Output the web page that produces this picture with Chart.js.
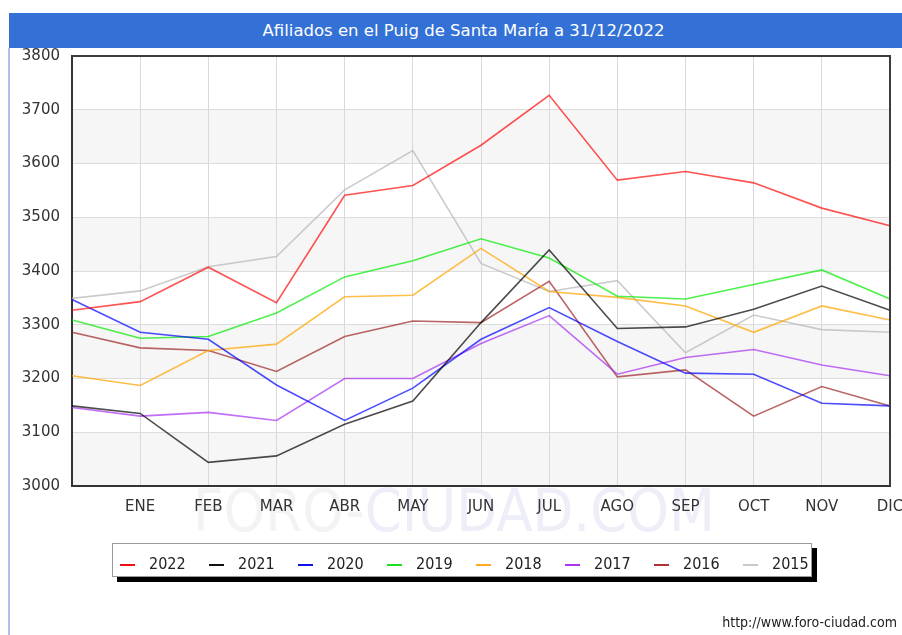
<!DOCTYPE html>
<html>
<head>
<meta charset="utf-8">
<script src="https://cdn.jsdelivr.net/npm/chart.js@4/dist/chart.umd.min.js"></script>
<style>
  html, body { margin:0; padding:0; background:#fff; }
  body { width:902px; height:635px; position:relative; overflow:hidden; font-family:"DejaVu Sans", sans-serif; }
  #titlebar { position:absolute; left:9px; top:13px; width:909px; height:35px; background:#3371d6; color:#fff;
    font-size:16.5px; line-height:35px; text-align:center; white-space:nowrap; }
  #leftline { position:absolute; left:8px; top:48px; width:2px; height:600px; background:#a9c3ea; }
  #wm { position:absolute; left:193px; top:481px; font-family:"DejaVu Sans Condensed","DejaVu Sans",sans-serif;
    font-size:59px; line-height:59px; white-space:nowrap; z-index:0; }
  #wm .a { color:#f3f3f3; }
  #wm .b { color:#eeeef9; }
  #c { position:absolute; left:0; top:0; width:902px; height:635px; z-index:1; }
  #legend { position:absolute; left:112px; top:543px; width:698px; height:32px; border:1px solid #9a9a9a; background:#fff;
    box-shadow:5px 5px 0 #000; z-index:2; font-family:"DejaVu Sans Condensed","DejaVu Sans",sans-serif; font-size:16px; color:#222; }
  #legend .item { position:absolute; top:11px; height:18px; line-height:18px; white-space:nowrap; }
  #legend .dash { position:absolute; left:0; top:9px; width:15px; height:2px; }
  #legend .txt { position:absolute; left:29px; top:0; }
  #footer { position:absolute; right:5px; top:614px; font-family:"DejaVu Sans Condensed","DejaVu Sans",sans-serif;
    font-size:14px; line-height:16px; color:#222; z-index:2; }
</style>
</head>
<body>
<div id="titlebar">Afiliados en el Puig de Santa María a 31/12/2022</div>
<div id="leftline"></div>
<div id="wm"><span class="a">FORO-</span><span class="b">CIUDAD.COM</span></div>
<canvas id="c" width="902" height="635"></canvas>
<div id="legend"></div>
<div id="footer">http://www.foro-ciudad.com</div>
<script>
// ---- data ----
const monthLabels = ['', 'ENE', 'FEB', 'MAR', 'ABR', 'MAY', 'JUN', 'JUL', 'AGO', 'SEP', 'OCT', 'NOV', 'DIC'];
const seriesNames = ['2022', '2021', '2020', '2019', '2018', '2017', '2016', '2015'];
const v2022 = [3327, 3343, 3407, 3341, 3541, 3559, 3634, 3727, 3569, 3585, 3564, 3517, 3484];
const v2021 = [3149, 3135, 3044, 3056, 3115, 3158, 3304, 3439, 3293, 3296, 3329, 3372, 3327];
const v2020 = [3347, 3286, 3273, 3188, 3122, 3182, 3273, 3332, 3269, 3210, 3208, 3154, 3149];
const v2019 = [3309, 3275, 3278, 3322, 3389, 3419, 3460, 3424, 3353, 3348, 3375, 3402, 3348];
const v2018 = [3205, 3187, 3252, 3264, 3352, 3355, 3442, 3362, 3351, 3335, 3286, 3335, 3309];
const v2017 = [3146, 3130, 3137, 3122, 3200, 3200, 3265, 3317, 3208, 3239, 3254, 3225, 3205];
const v2016 = [3286, 3257, 3252, 3213, 3278, 3307, 3304, 3381, 3203, 3216, 3130, 3185, 3149];
const v2015 = [3349, 3363, 3408, 3427, 3551, 3624, 3414, 3362, 3382, 3248, 3318, 3291, 3286];
const yMin = 3000, yMax = 3800, yStep = 100;

// ---- styles ----
const lineColors = ['rgba(255,0,0,0.68)', 'rgba(0,0,0,0.7)', 'rgba(0,0,255,0.7)', 'rgba(0,235,0,0.7)',
  'rgba(255,165,0,0.72)', 'rgba(165,40,240,0.68)', 'rgba(160,42,42,0.72)', 'rgba(185,185,185,0.75)'];
const legendColors = ['#ee1111', '#111111', '#1111ee', '#22dd22', '#ffaa22', '#aa33ee', '#aa3333', '#c8c8c8'];
const seriesValues = [v2022, v2021, v2020, v2019, v2018, v2017, v2016, v2015];

// legend
const leg = document.getElementById('legend');
seriesNames.forEach((n, i) => {
  const it = document.createElement('div');
  it.className = 'item';
  it.style.left = (7 + i * 89) + 'px';
  it.innerHTML = '<div class="dash" style="background:' + legendColors[i] + '"></div><span class="txt">' + n + '</span>';
  leg.appendChild(it);
});

const framePlugin = {
  id: 'frame',
  beforeDraw(chart) {
    const { ctx, chartArea: a, scales } = chart;
    const y = scales.y;
    ctx.save();
    ctx.fillStyle = '#ffffff';
    ctx.fillRect(a.left, a.top, a.right - a.left, a.bottom - a.top);
    ctx.fillStyle = '#f6f6f6';
    for (let v = yMin; v < yMax; v += 2 * yStep) {
      const t = y.getPixelForValue(v + yStep), b = y.getPixelForValue(v);
      ctx.fillRect(a.left, t, a.right - a.left, b - t);
    }
    ctx.restore();
  },
  afterDraw(chart) {
    const { ctx, chartArea: a } = chart;
    ctx.save();
    ctx.strokeStyle = '#3c3c3c';
    ctx.lineWidth = 2;
    ctx.beginPath();
    ctx.moveTo(a.left, a.top);
    ctx.lineTo(a.right, a.top);
    ctx.lineTo(a.right, a.bottom);
    ctx.stroke();
    ctx.restore();
  }
};

new Chart(document.getElementById('c'), {
  type: 'line',
  data: {
    labels: monthLabels,
    datasets: seriesNames.map((n, i) => ({
      label: n,
      data: seriesValues[i],
      borderColor: lineColors[i],
      backgroundColor: lineColors[i],
      borderWidth: 1.6,
      pointRadius: 0,
      tension: 0,
      fill: false
    }))
  },
  options: {
    responsive: false,
    animation: false,
    devicePixelRatio: 1,
    layout: { padding: { left: 0, right: 12, top: 56, bottom: 109 } },
    plugins: { legend: { display: false }, tooltip: { enabled: false }, title: { display: false } },
    scales: {
      x: {
        type: 'category',
        offset: false,
        afterFit(s) { s.height = 40; s.paddingLeft = 0; s.paddingRight = 0; },
        grid: { color: '#d9d9d9', lineWidth: 1, drawTicks: false, tickLength: 0 },
        border: { color: '#333', width: 2 },
        ticks: { color: '#333', font: { family: 'DejaVu Sans', size: 15 }, padding: 12, maxRotation: 0, autoSkip: false }
      },
      y: {
        min: yMin, max: yMax,
        afterFit(s) { s.width = 72; s.paddingTop = 0; s.paddingBottom = 0; },
        grid: { color: '#dcdcdc', lineWidth: 1, drawTicks: false, tickLength: 0 },
        border: { color: '#333', width: 2 },
        ticks: { stepSize: yStep, color: '#333', font: { family: 'DejaVu Sans', size: 15 }, padding: 12,
          callback: (v) => String(v) }
      }
    }
  },
  plugins: [framePlugin]
});
</script>
</body>
</html>
